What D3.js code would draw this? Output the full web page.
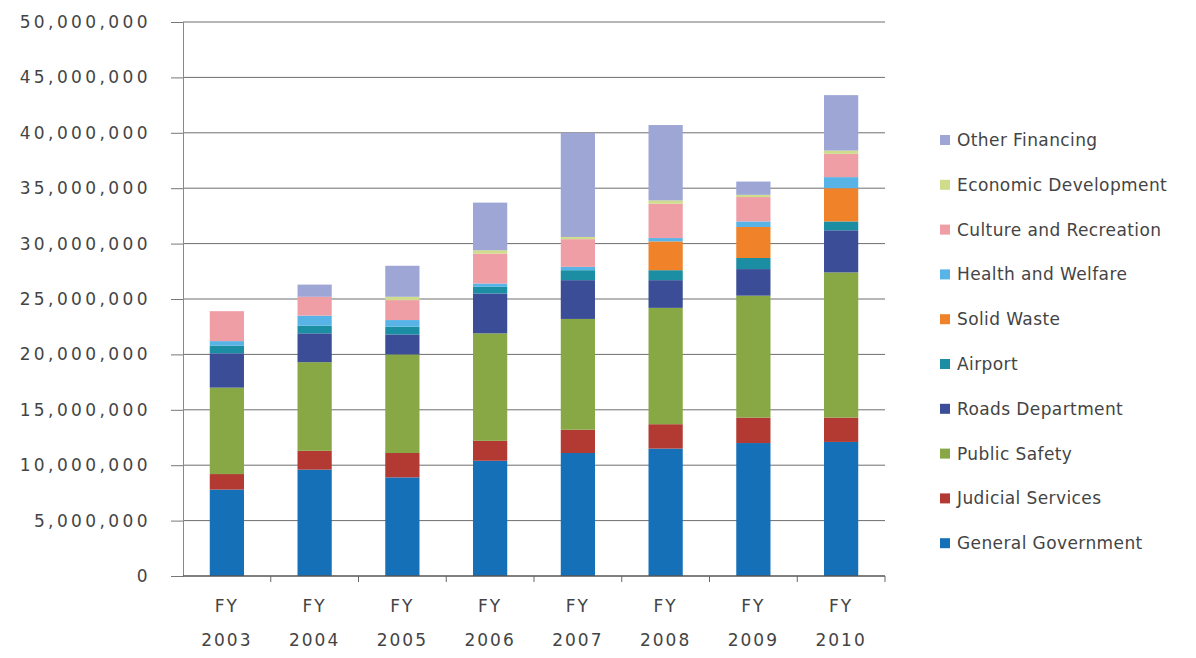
<!DOCTYPE html>
<html>
<head>
<meta charset="utf-8">
<script src="https://cdn.jsdelivr.net/npm/d3@7"></script>
<style>
  html, body { margin: 0; padding: 0; background: #fff; }
  svg { display: block; font-family: "DejaVu Sans", sans-serif; }
</style>
</head>
<body>
<div id="chart"></div>
<script>
const years = ["2003", "2004", "2005", "2006", "2007", "2008", "2009", "2010"];

// series, bottom to top
const generalGovernment   = [7.8e6, 9.6e6, 8.9e6, 10.4e6, 11.1e6, 11.5e6, 12.0e6, 12.1e6];
const judicialServices    = [1.4e6, 1.7e6, 2.2e6, 1.8e6, 2.1e6, 2.2e6, 2.3e6, 2.2e6];
const publicSafety        = [7.8e6, 8.0e6, 8.9e6, 9.7e6, 10.0e6, 10.5e6, 11.0e6, 13.1e6];
const roadsDepartment     = [3.1e6, 2.6e6, 1.8e6, 3.6e6, 3.5e6, 2.5e6, 2.4e6, 3.8e6];
const airport             = [0.7e6, 0.7e6, 0.7e6, 0.6e6, 0.9e6, 0.9e6, 1.0e6, 0.8e6];
const solidWaste          = [0, 0, 0, 0, 0, 2.6e6, 2.8e6, 3.0e6];
const healthWelfare       = [0.4e6, 0.9e6, 0.6e6, 0.3e6, 0.3e6, 0.3e6, 0.5e6, 1.0e6];
const cultureRecreation   = [2.7e6, 1.7e6, 1.8e6, 2.7e6, 2.5e6, 3.1e6, 2.2e6, 2.1e6];
const economicDevelopment = [0, 0, 0.3e6, 0.3e6, 0.2e6, 0.3e6, 0.2e6, 0.3e6];
const otherFinancing      = [0, 1.1e6, 2.8e6, 4.3e6, 9.4e6, 6.8e6, 1.2e6, 5.0e6];

const seriesNames = ["General Government", "Judicial Services", "Public Safety", "Roads Department",
  "Airport", "Solid Waste", "Health and Welfare", "Culture and Recreation",
  "Economic Development", "Other Financing"];
const seriesValues = [generalGovernment, judicialServices, publicSafety, roadsDepartment,
  airport, solidWaste, healthWelfare, cultureRecreation, economicDevelopment, otherFinancing];
const colors = ["#1670b8", "#b23a32", "#87a845", "#3b4d96", "#1b8ea3",
  "#f0822a", "#58b4e6", "#ef9ea6", "#cfdc8c", "#9ea6d6"];
const yTicks = [0, 5e6, 10e6, 15e6, 20e6, 25e6, 30e6, 35e6, 40e6, 45e6, 50e6];

const W = 1196, H = 658;
const mLeft = 183, mRight = 885, mTop = 22, mBottom = 576;

const rows = years.map((yr, i) => {
  const r = { year: yr };
  seriesNames.forEach((s, j) => r[s] = seriesValues[j][i]);
  return r;
});
const stacked = d3.stack().keys(seriesNames)(rows);

const x = d3.scaleBand().domain(years).range([mLeft, mRight]).paddingInner(0.61).paddingOuter(0.305);
const y = d3.scaleLinear().domain([0, 50e6]).range([mBottom, mTop]);
const color = d3.scaleOrdinal(seriesNames, colors);

const svg = d3.select("#chart").append("svg").attr("width", W).attr("height", H);

// gridlines
svg.append("g")
  .selectAll("line")
  .data(yTicks.slice(1))
  .join("line")
  .attr("x1", mLeft).attr("x2", mRight)
  .attr("y1", d => y(d)).attr("y2", d => y(d))
  .attr("stroke", "#6e6e6e").attr("stroke-width", 1);

// y axis
const yAxis = svg.append("g")
  .attr("transform", `translate(${mLeft},0)`)
  .call(d3.axisLeft(y).tickValues(yTicks).tickFormat(d3.format(",")).tickSize(12).tickPadding(20));
yAxis.select(".domain").attr("stroke", "#888");
yAxis.selectAll(".tick line").attr("stroke", "#777");
yAxis.selectAll(".tick text")
  .attr("fill", "#444").attr("font-size", 17).attr("letter-spacing", 3.4)
  .attr("font-family", "DejaVu Sans, sans-serif");

// bars
svg.append("g")
  .selectAll("g")
  .data(stacked)
  .join("g")
  .attr("fill", d => color(d.key))
  .selectAll("rect")
  .data(d => d)
  .join("rect")
  .attr("x", d => x(d.data.year))
  .attr("width", x.bandwidth())
  .attr("y", d => y(d[1]))
  .attr("height", d => y(d[0]) - y(d[1]));

// x axis
const xAxis = svg.append("g").attr("transform", `translate(0,${mBottom})`);
xAxis.append("line").attr("x1", mLeft).attr("x2", mRight).attr("stroke", "#555").attr("stroke-width", 1.5);
xAxis.selectAll(".bnd")
  .data(years.map((d, i) => mLeft + x.step() * (i + 1)))
  .join("line")
  .attr("class", "bnd")
  .attr("x1", d => d).attr("x2", d => d)
  .attr("y1", 0).attr("y2", 6)
  .attr("stroke", "#666");
const xl = xAxis.selectAll(".lbl")
  .data(years)
  .join("text")
  .attr("class", "lbl")
  .attr("text-anchor", "middle")
  .attr("fill", "#444").attr("font-size", 17).attr("letter-spacing", 2);
xl.append("tspan").attr("x", d => x(d) + x.bandwidth() / 2).attr("y", 36).text("FY");
xl.append("tspan").attr("x", d => x(d) + x.bandwidth() / 2).attr("y", 70).text(d => d);

// legend, top to bottom in reverse stack order
const legendItems = seriesNames.slice().reverse();
const lg = svg.append("g").attr("transform", "translate(940,140)")
  .selectAll("g")
  .data(legendItems)
  .join("g")
  .attr("transform", (d, i) => `translate(0,${i * 44.8})`);
lg.append("rect").attr("x", 0).attr("y", -5).attr("width", 10).attr("height", 10).attr("fill", d => color(d));
lg.append("text")
  .attr("x", 17).attr("y", 0).attr("dy", "0.35em")
  .attr("fill", "#444").attr("font-size", 17).attr("letter-spacing", 0.4)
  .text(d => d);
</script>
</body>
</html>
